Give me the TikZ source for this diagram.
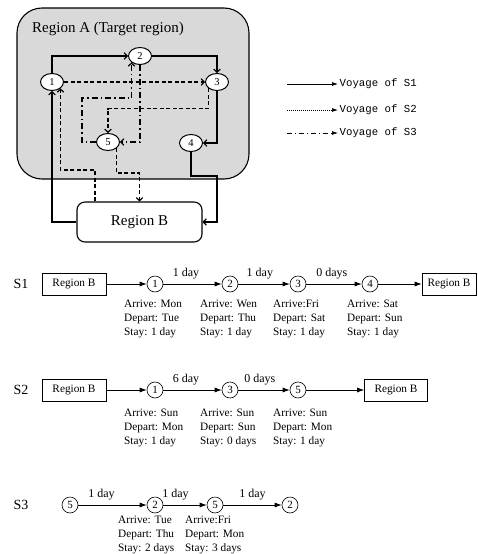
\documentclass[tikz,border=0pt]{standalone}
\usepackage{fontspec}
\setmainfont{Liberation Serif}
\newfontfamily\legfont{Liberation Mono}
\usetikzlibrary{arrows.meta,positioning,shapes.geometric,calc}
\begin{document}
\begin{tikzpicture}[x=1pt,y=-1pt,
  every node/.style={inner sep=0pt},
  topnode/.style={ellipse, draw, line width=1pt, fill=white, minimum width=23pt, minimum height=17pt, font=\fontsize{10.5}{11}\selectfont},
  s1/.style={line width=1.2pt, -{Straight Barb[length=3pt,width=6.5pt]}},
  s2/.style={s1, dash pattern=on 4pt off 2.5pt},
  s3/.style={s1, dash pattern=on 6pt off 3pt on 1.5pt off 3pt},
  legtxt/.style={anchor=west, inner sep=1.5pt, font=\legfont\fontsize{10.7}{12}\selectfont},
  legline/.style={line width=0.7pt, -{Latex[length=6pt,width=4pt]}},
  circ/.style={circle, draw, line width=0.6pt, minimum size=16pt, font=\fontsize{11}{12}\selectfont},
  bbox/.style={rectangle, draw, line width=0.6pt, minimum height=22pt, font=\fontsize{11.3}{13}\selectfont},
  arr/.style={line width=0.7pt, -{Latex[length=7pt,width=5pt]}},
  lab/.style={above=5pt, font=\fontsize{12}{13}\selectfont},
  info/.style={align=left, anchor=north west, font=\fontsize{11.3}{14}\selectfont},
  rowlab/.style={font=\fontsize{14}{15}\selectfont}
]
\useasboundingbox (0,0) rectangle (477,554);

% ---------- top map ----------
\node[draw, line width=1.1pt, fill=black!15, rounded corners=25pt, minimum width=232pt, minimum height=171pt] (regA) at (133,93.5) {};
\node[anchor=west, font=\fontsize{15}{16}\selectfont] (titA) at (32,29) {Region A (Target region)};
\node[topnode] (t1) at (52,82) {1};
\node[topnode] (t2) at (140,56) {2};
\node[topnode] (t3) at (217,82) {3};
\node[topnode] (t4) at (191,143) {4};
\node[topnode] (t5) at (108,142) {5};
\node[draw, line width=1.1pt, fill=white, rounded corners=8pt, minimum width=125pt, minimum height=40pt, font=\fontsize{15}{16}\selectfont] (regB) at (139.5,222) {Region B};

% S1 solid
\draw[s1] (regB.west) -| (t1.south);
\draw[s1] (t1.north) |- (t2.west);
\draw[s1] (t2.east) -| (t3.north);
\draw[s1] (t3.south) |- (t4.east);
\coordinate (k4) at (217,176);
\draw[s1] (t4.south) |- (k4) |- (regB.east);

% S2 dashed
\coordinate (k1) at (95,170);
\draw[s2] (k1 |- regB.north) -- (k1) -| (t1.south east);
\draw[s2] (t1.east) -- (t3.west);
\draw[s2] (t3.south west) -- ++(0,20.3) -| (t5.north);
\coordinate (k5) at (120,173);
\draw[s2] (t5.south east) |- (k5) -| (regB.north);

% S3 dash-dot
\coordinate (k3) at (82,98);
\draw[s3] (t5.west) -| (k3) -| (t2.south west);
\draw[s3] (t2.south) |- (t5.east);

% ---------- legend ----------
\node[legtxt] (l1) at (338,84) {Voyage of S1};
\node[legtxt] (l2) at (338,110) {Voyage of S2};
\node[legtxt] (l3) at (338,133) {Voyage of S3};
\coordinate (l1s) at (287,84);
\coordinate (l2s) at (287,110);
\coordinate (l3s) at (287,133);
\draw[legline] (l1s) -- (l1.west);
\draw[legline, dash pattern=on 0.8pt off 1.2pt] (l2s) -- (l2.west);
\draw[legline, dash pattern=on 5pt off 3pt on 1pt off 3pt] (l3s) -- (l3.west);

% ---------- S1 row ----------
\node[rowlab] (r1) at (21,284) {S1};
\node[bbox, minimum width=64pt] (b1a) at (74,284) {Region B};
\node[circ] (a1) at (155,284) {1};
\node[circ] (a2) at (230,284) {2};
\node[circ] (a3) at (298,284) {3};
\node[circ] (a4) at (370,284) {4};
\node[bbox, minimum width=54pt] (b1b) at (449,284) {Region B};
\draw[arr] (b1a) -- (a1);
\draw[arr] (a1) -- node[lab, pos=0.39] {1 day} (a2);
\draw[arr] (a2) -- node[lab, pos=0.42] {1 day} (a3);
\draw[arr] (a3) -- node[lab, pos=0.46] {0 days} (a4);
\draw[arr] (a4) -- (b1b);
\node[info] (i11) at (124,300) {Arrive: Mon\\Depart: Tue\\Stay: 1 day};
\node[info] (i12) at (200,300) {Arrive: Wen\\Depart: Thu\\Stay: 1 day};
\node[info] (i13) at (273,300) {Arrive:Fri\\Depart: Sat\\Stay: 1 day};
\node[info] (i14) at (347,300) {Arrive: Sat\\Depart: Sun\\Stay: 1 day};

% ---------- S2 row ----------
\node[rowlab] (r2) at (21,390) {S2};
\node[bbox, minimum width=64pt] (b2a) at (74,390) {Region B};
\node[circ] (c1) at (155,390) {1};
\node[circ] (c2) at (230,390) {3};
\node[circ] (c3) at (298,390) {5};
\node[bbox, minimum width=63pt] (b2b) at (396,390) {Region B};
\draw[arr] (b2a) -- (c1);
\draw[arr] (c1) -- node[lab, pos=0.39] {6 day} (c2);
\draw[arr] (c2) -- node[lab, pos=0.42] {0 days} (c3);
\draw[arr] (c3) -- (b2b);
\node[info] (i21) at (124,409) {Arrive: Sun\\Depart: Mon\\Stay: 1 day};
\node[info] (i22) at (200,409) {Arrive: Sun\\Depart: Sun\\Stay: 0 days};
\node[info] (i23) at (273,409) {Arrive: Sun\\Depart: Mon\\Stay: 1 day};

% ---------- S3 row ----------
\node[rowlab] (r3) at (21,505) {S3};
\node[circ] (d1) at (70,505) {5};
\node[circ] (d2) at (155,505) {2};
\node[circ] (d3) at (215,505) {5};
\node[circ] (d4) at (290,505) {2};
\draw[arr] (d1) -- node[lab, pos=0.34] {1 day} (d2);
\draw[arr] (d2) -- node[lab, pos=0.28] {1 day} (d3);
\draw[arr] (d3) -- node[lab, pos=0.5] {1 day} (d4);
\node[info] (i31) at (118,516) {Arrive: Tue\\Depart: Thu\\Stay: 2 days};
\node[info] (i32) at (185,516) {Arrive:Fri\\Depart: Mon\\Stay: 3 days};
\end{tikzpicture}
\end{document}
